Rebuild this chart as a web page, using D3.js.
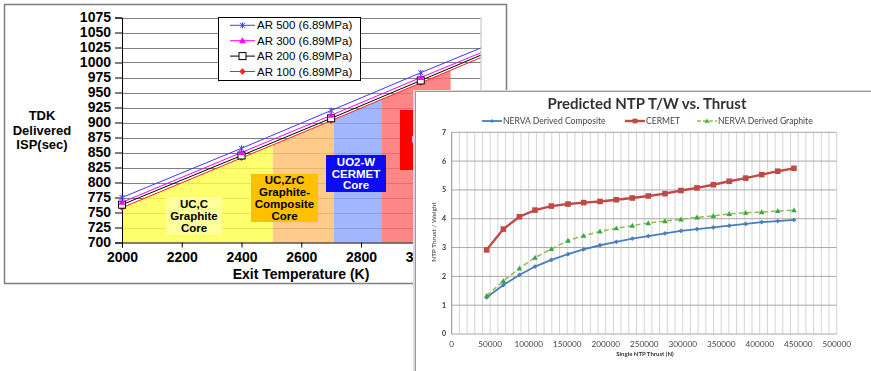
<!DOCTYPE html>
<html><head><meta charset="utf-8">
<script src="https://cdn.jsdelivr.net/npm/d3@7"></script>
<style>
html,body{margin:0;padding:0;background:#fff;}
svg{display:block;}
</style></head><body>
<svg id="chart" width="871" height="371"></svg>
<script>
// ---- Delivered Isp vs. nozzle exit temperature ----
const exitTemps = [2000, 2400, 2700, 3000, 3200];
const ispAR500 = [775, 857, 920, 983, 1024];
const ispAR300 = [767, 850, 912, 975, 1016];
const ispAR200 = [763, 845, 907, 970, 1012];
const ispAR100 = [758, 841, 903, 966, 1008];
const ispSeriesNames = ["AR 500 (6.89MPa)", "AR 300 (6.89MPa)", "AR 200 (6.89MPa)", "AR 100 (6.89MPa)"];
const ispTicks = [700, 725, 750, 775, 800, 825, 850, 875, 900, 925, 950, 975, 1000, 1025, 1050, 1075];
const tempTicks = [2000, 2200, 2400, 2600, 2800, 3000, 3200];
const coreBandStart = [2000, 2505, 2710, 2870];
const coreBandEnd = [2505, 2710, 2870, 3100];
const coreLabels = [["UC,C", "Graphite", "Core"], ["UC,ZrC", "Graphite-", "Composite", "Core"], ["UO2-W", "CERMET", "Core"], ["UN"]];

// ---- Predicted NTP thrust-to-weight vs. thrust ----
const thrustN = [45400, 67100, 87900, 108200, 129400, 151000, 171400, 192600, 213800, 234600,
                 255300, 277000, 297800, 318600, 339800, 360500, 381800, 402600, 423400, 444500];
const twComposite = [1.27, 1.70, 2.05, 2.34, 2.57, 2.77, 2.94, 3.08, 3.20, 3.31,
                     3.40, 3.49, 3.58, 3.64, 3.70, 3.76, 3.82, 3.88, 3.92, 3.96];
const twCermet = [2.92, 3.64, 4.07, 4.30, 4.44, 4.51, 4.56, 4.60, 4.66, 4.72,
                  4.79, 4.87, 4.98, 5.07, 5.18, 5.30, 5.41, 5.53, 5.65, 5.75];
const twGraphite = [1.33, 1.84, 2.28, 2.65, 2.95, 3.24, 3.41, 3.56, 3.67, 3.76,
                    3.85, 3.92, 3.98, 4.05, 4.10, 4.17, 4.21, 4.23, 4.27, 4.30];
const twSeriesNames = ["NERVA Derived Composite", "CERMET", "NERVA Derived Graphite"];
const thrustTicks = [0, 50000, 100000, 150000, 200000, 250000, 300000, 350000, 400000, 450000, 500000];
const twTicks = [0, 1, 2, 3, 4, 5, 6, 7];

const svg = d3.select("#chart");
const defs = svg.append("defs");

// =================== Left chart: Isp ===================
const L = svg.append("g").attr("font-family", "Arial, 'Liberation Sans', sans-serif");
L.append("rect").attr("x", 4.5).attr("y", 4.5).attr("width", 502).attr("height", 279)
  .attr("fill", "#fff").attr("stroke", "#7f7f7f").attr("stroke-width", 1.5);

const xT = d3.scaleLinear().domain([2000, 3200]).range([122, 480.5]);
const yI = d3.scaleLinear().domain([700, 1075]).range([242.5, 17.5]);

// horizontal gridlines
L.append("g").selectAll("line").data(ispTicks.slice(1)).join("line")
  .attr("x1", xT(2000)).attr("x2", xT(3200))
  .attr("y1", d => Math.round(yI(d)) + 0.5).attr("y2", d => Math.round(yI(d)) + 0.5)
  .attr("stroke", "#808080").attr("stroke-width", 1);
L.append("line").attr("x1", xT(3200) + 0.5).attr("x2", xT(3200) + 0.5)
  .attr("y1", yI(1075)).attr("y2", yI(700)).attr("stroke", "#bdbdbd");

// core material bands, filled up to the AR 100 curve
const ar100Pts = exitTemps.map((t, i) => [t, ispAR100[i]]);
const bandFill = ["#ffff4d", "#ffbf70", "#8ea6ff", "#ff6b6b"];
coreBandStart.forEach((s, i) => {
  const id = "band" + i;
  defs.append("clipPath").attr("id", id).append("rect")
    .attr("x", xT(s)).attr("width", xT(coreBandEnd[i]) - xT(s))
    .attr("y", 0).attr("height", 300);
  L.append("path").datum(ar100Pts)
    .attr("clip-path", `url(#${id})`)
    .attr("d", d3.area().x(d => xT(d[0])).y0(yI(700)).y1(d => yI(d[1])))
    .attr("fill", bandFill[i]).attr("fill-opacity", 0.82);
});

// material label boxes
const boxes = [
  {x: 166, y: 197, w: 56, h: 38, fill: "#ffff99", color: "#000"},
  {x: 251, y: 174, w: 67, h: 48, fill: "#ffc000", color: "#000"},
  {x: 326, y: 155, w: 60, h: 37, fill: "#0b0bf5", color: "#fff"},
  {x: 400, y: 110, w: 40, h: 60, fill: "#ff0000", color: "#fff"}
];
boxes.forEach((b, i) => {
  L.append("rect").attr("x", b.x).attr("y", b.y).attr("width", b.w).attr("height", b.h).attr("fill", b.fill);
  const lines = coreLabels[i];
  const lh = 11.8;
  const cy = b.y + b.h / 2 - (lines.length - 1) * lh / 2;
  L.append("text").attr("font-size", 11.5).attr("font-weight", "bold").attr("fill", b.color)
    .attr("text-anchor", "middle")
    .selectAll("tspan").data(lines).join("tspan")
    .attr("x", b.x + b.w / 2).attr("y", (d, j) => cy + j * lh).attr("dy", "0.36em").text(d => d);
});

// axes
const yAxL = L.append("g").attr("transform", `translate(${xT(2000)},0)`)
  .call(d3.axisLeft(yI).tickValues(ispTicks).tickSize(7).tickPadding(4).tickFormat(d3.format("d")));
yAxL.select(".domain").attr("stroke", "#000");
yAxL.selectAll(".tick line").attr("stroke", "#000");
yAxL.selectAll("text").attr("font-size", 14).attr("font-weight", "bold").attr("font-family", "Arial, 'Liberation Sans', sans-serif").attr("fill", "#000");

const xAxL = L.append("g").attr("transform", `translate(0,${yI(700)})`)
  .call(d3.axisBottom(xT).tickValues(tempTicks).tickSize(5).tickPadding(5).tickFormat(d3.format("d")));
xAxL.select(".domain").attr("stroke", "#000");
xAxL.selectAll(".tick line").attr("stroke", "#000");
xAxL.selectAll("text").attr("font-size", 14).attr("font-weight", "bold").attr("font-family", "Arial, 'Liberation Sans', sans-serif").attr("fill", "#000");

L.append("text").attr("x", 301).attr("y", 274).attr("dy", "0.36em").attr("text-anchor", "middle")
  .attr("font-size", 14).attr("font-weight", "bold").text("Exit Temperature (K)");
L.append("text").attr("text-anchor", "middle").attr("font-size", 13).attr("font-weight", "bold")
  .selectAll("tspan").data(["TDK", "Delivered", "ISP(sec)"]).join("tspan")
  .attr("x", 42).attr("y", (d, i) => 115.5 + i * 14.6).attr("dy", "0.36em").text(d => d);

// Isp series
const ispSeries = [
  {name: ispSeriesNames[0], vals: ispAR500, color: "#3b3bff", marker: "star"},
  {name: ispSeriesNames[1], vals: ispAR300, color: "#ff00ff", marker: "tri"},
  {name: ispSeriesNames[2], vals: ispAR200, color: "#000000", marker: "sq"},
  {name: ispSeriesNames[3], vals: ispAR100, color: "#ff2020", marker: "dia"}
];
function drawIspMarker(g, x, y, s) {
  if (s.marker === "star") {
    g.append("path").attr("d", `M${x-2.5},${y-2.5}L${x+2.5},${y+2.5}M${x-2.5},${y+2.5}L${x+2.5},${y-2.5}M${x},${y-3}L${x},${y+3}`)
      .attr("stroke", s.color).attr("stroke-width", 1).attr("fill", "none");
  } else if (s.marker === "tri") {
    g.append("path").attr("d", `M${x},${y-3.5}L${x+3.5},${y+2.5}L${x-3.5},${y+2.5}Z`).attr("fill", s.color);
  } else if (s.marker === "sq") {
    g.append("rect").attr("x", x - 3.5).attr("y", y - 3.5).attr("width", 7).attr("height", 7)
      .attr("fill", "#fff").attr("stroke", "#000").attr("stroke-width", 1);
  } else {
    g.append("path").attr("d", `M${x},${y-3.2}L${x+3.2},${y}L${x},${y+3.2}L${x-3.2},${y}Z`).attr("fill", s.color);
  }
}
const ispLine = d3.line().x((d, i) => xT(exitTemps[i])).y(d => yI(d));
ispSeries.slice().reverse().forEach(s => {
  L.append("path").attr("d", ispLine(s.vals)).attr("fill", "none").attr("stroke", s.color).attr("stroke-width", 1);
});
ispSeries.slice().reverse().forEach(s => {
  s.vals.forEach((v, i) => { if (exitTemps[i] <= 3000) drawIspMarker(L, xT(exitTemps[i]), yI(v), s); });
});

// legend
const lg = L.append("g");
lg.append("rect").attr("x", 218.5).attr("y", 17.5).attr("width", 142).attr("height", 63)
  .attr("fill", "#fff").attr("stroke", "#000").attr("stroke-width", 1);
ispSeries.forEach((s, i) => {
  const y = 25.3 + i * 15.4;
  lg.append("line").attr("x1", 230).attr("x2", 255).attr("y1", y).attr("y2", y).attr("stroke", s.color);
  drawIspMarker(lg, 242.5, y, s);
  lg.append("text").attr("x", 257).attr("y", y).attr("dy", "0.36em").attr("font-size", 11.5).attr("fill", "#000").text(s.name);
});

// =================== Right chart: T/W ===================
const R = svg.append("g").attr("font-family", "Lato, 'Open Sans', sans-serif");
defs.append("filter").attr("id", "soft").append("feGaussianBlur").attr("stdDeviation", 0.3);
R.append("rect").attr("x", 413).attr("y", 90).attr("width", 470).attr("height", 300).attr("fill", "#d9d9d9");
R.append("rect").attr("x", 415.5).attr("y", 91.5).attr("width", 470).attr("height", 300)
  .attr("fill", "#fff").attr("stroke", "#9a9a9a").attr("stroke-width", 1);

const P = R.append("g").attr("filter", "url(#soft)");
const xN = d3.scaleLinear().domain([0, 500000]).range([451.7, 836.7]);
const yW = d3.scaleLinear().domain([0, 7]).range([334, 132.3]);

// minor vertical gridlines
P.append("g").selectAll("line").data(xN.ticks(50)).join("line")
  .attr("x1", d => xN(d)).attr("x2", d => xN(d)).attr("y1", yW(7)).attr("y2", yW(0))
  .attr("stroke", "#d4d4d4").attr("stroke-width", 1);
// major horizontal gridlines
P.append("g").selectAll("line").data(twTicks).join("line")
  .attr("x1", xN(0)).attr("x2", xN(500000)).attr("y1", d => yW(d)).attr("y2", d => yW(d))
  .attr("stroke", "#a8a8a8").attr("stroke-width", 1);
P.append("line").attr("x1", xN(0)).attr("x2", xN(0)).attr("y1", yW(7)).attr("y2", yW(0)).attr("stroke", "#9a9a9a");

P.append("g").selectAll("text").data(twTicks).join("text")
  .attr("x", 446).attr("y", d => yW(d)).attr("dy", "0.35em").attr("text-anchor", "end")
  .attr("font-size", 7).attr("font-weight", "bold").attr("fill", "#333").text(d => d);
P.append("g").selectAll("text").data(thrustTicks).join("text")
  .attr("x", d => xN(d)).attr("y", 344.5).attr("dy", "0.35em").attr("text-anchor", "middle")
  .attr("font-size", 8.2).attr("fill", "#444").text(d => d);

P.append("text").attr("x", 645).attr("y", 354).attr("dy", "0.35em").attr("text-anchor", "middle")
  .attr("font-size", 6).attr("font-weight", "bold").attr("fill", "#333").text("Single NTP Thrust (N)");
P.append("text").attr("transform", "translate(434,232) rotate(-90)").attr("dy", "0.35em").attr("text-anchor", "middle")
  .attr("font-size", 6.5).attr("fill", "#333").text("NTP Thrust / Weight");
P.append("text").attr("x", 647).attr("y", 104).attr("dy", "0.36em").attr("text-anchor", "middle")
  .attr("font-size", 15).attr("font-weight", "bold").attr("fill", "#333").text("Predicted NTP T/W vs. Thrust");

const twSeries = [
  {name: twSeriesNames[0], vals: twComposite, color: "#4a7ebb", width: 1.8, dash: null, marker: "dia", lx: 482},
  {name: twSeriesNames[1], vals: twCermet, color: "#be4b48", width: 2.4, dash: null, marker: "sq", lx: 625},
  {name: twSeriesNames[2], vals: twGraphite, color: "#98b954", width: 1.5, dash: "5,3", marker: "tri", lx: 697}
];
function drawTwMarker(g, x, y, s, k) {
  if (s.marker === "dia") {
    const r = 2.4 * k;
    g.append("path").attr("d", `M${x},${y-r}L${x+r},${y}L${x},${y+r}L${x-r},${y}Z`).attr("fill", s.color);
  } else if (s.marker === "sq") {
    const r = 2.8 * k;
    g.append("rect").attr("x", x - r).attr("y", y - r).attr("width", 2 * r).attr("height", 2 * r).attr("fill", s.color);
  } else {
    const r = 2.8 * k;
    g.append("path").attr("d", `M${x},${y-r}L${x+r},${y+r*0.75}L${x-r},${y+r*0.75}Z`).attr("fill", "#3aa648");
  }
}
const twLine = d3.line().x((d, i) => xN(thrustN[i])).y(d => yW(d));
twSeries.forEach(s => {
  P.append("path").attr("d", twLine(s.vals)).attr("fill", "none").attr("stroke", s.color)
    .attr("stroke-width", s.width).attr("stroke-dasharray", s.dash);
  s.vals.forEach((v, i) => drawTwMarker(P, xN(thrustN[i]), yW(v), s, 1));
  // legend entry
  const ly = 121;
  P.append("line").attr("x1", s.lx).attr("x2", s.lx + 20).attr("y1", ly).attr("y2", ly)
    .attr("stroke", s.color).attr("stroke-width", s.width).attr("stroke-dasharray", s.dash ? "4,2" : null);
  drawTwMarker(P, s.lx + 10, ly, s, 0.85);
  P.append("text").attr("x", s.lx + 21).attr("y", ly).attr("dy", "0.35em")
    .attr("font-size", 8.6).attr("fill", "#444").text(s.name);
});
</script>
</body></html>
